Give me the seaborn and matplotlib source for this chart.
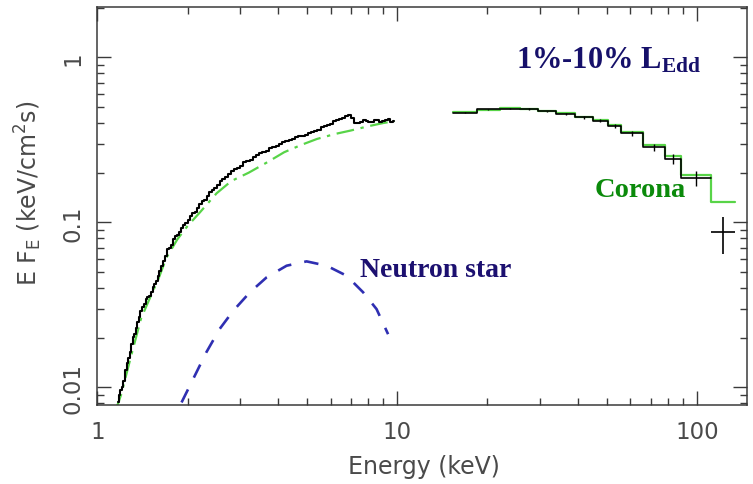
import matplotlib
matplotlib.use("Agg")
import matplotlib.pyplot as plt
import pandas as pd
import seaborn as sns
from matplotlib.ticker import NullFormatter

# Soft band spectrum (energy in keV, E F_E in keV/cm^2/s)
soft_energy = [1.17, 1.185, 1.20, 1.215, 1.23, 1.245, 1.26, 1.275, 1.29, 1.305, 1.32,
               1.335, 1.35, 1.365, 1.38, 1.40, 1.42, 1.44, 1.46, 1.48, 1.50, 1.52,
               1.54, 1.56, 1.58, 1.60, 1.62, 1.645, 1.67, 1.695, 1.72, 1.745, 1.77,
               1.80, 1.83, 1.86, 1.89, 1.92, 1.95, 1.985, 2.02, 2.055, 2.09, 2.13,
               2.17, 2.21, 2.25, 2.295, 2.34, 2.385, 2.43, 2.48, 2.53, 2.585, 2.64,
               2.70, 2.76, 2.825, 2.89, 2.96, 3.03, 3.105, 3.18, 3.26, 3.34, 3.425,
               3.51, 3.60, 3.69, 3.785, 3.88, 3.98, 4.08, 4.185, 4.29, 4.40, 4.51,
               4.625, 4.74, 4.86, 4.98, 5.105, 5.23, 5.36, 5.49, 5.625, 5.76, 5.90,
               6.04, 6.185, 6.33, 6.48, 6.63, 6.785, 6.94, 7.10, 7.26, 7.425, 7.59,
               7.76, 7.93, 8.105, 8.28, 8.46, 8.64, 8.825, 9.01, 9.20, 9.39, 9.585,
               9.78]
soft_flux = [0.0082, 0.0090, 0.0096, 0.0101, 0.0110, 0.0128, 0.0141, 0.0150, 0.0163,
             0.0184, 0.0201, 0.0212, 0.0229, 0.0250, 0.0268, 0.0290, 0.0306, 0.0318,
             0.0341, 0.0355, 0.0360, 0.0378, 0.0408, 0.0421, 0.0443, 0.0476, 0.0507,
             0.0540, 0.0585, 0.0628, 0.0686, 0.0702, 0.0730, 0.0790, 0.0825, 0.0840,
             0.0878, 0.0925, 0.0962, 0.0990, 0.1032, 0.1090, 0.1136, 0.1160, 0.1216,
             0.1290, 0.1340, 0.1375, 0.1436, 0.1520, 0.1580, 0.1625, 0.1690, 0.1775,
             0.1838, 0.1880, 0.1950, 0.2045, 0.2115, 0.2140, 0.2205, 0.2310, 0.2370,
             0.2400, 0.2475, 0.2575, 0.2625, 0.2650, 0.2720, 0.2815, 0.2880, 0.2910,
             0.2985, 0.3070, 0.3125, 0.3150, 0.3195, 0.3290, 0.3330, 0.3340, 0.3395,
             0.3490, 0.3540, 0.3570, 0.3640, 0.3760, 0.3840, 0.3880, 0.3970, 0.4100,
             0.4180, 0.4210, 0.4300, 0.4400, 0.4460, 0.4280, 0.4020, 0.3990, 0.4070,
             0.4150, 0.4120, 0.4060, 0.4080, 0.4180, 0.4160, 0.4050, 0.4090, 0.4190,
             0.4210, 0.4050, 0.4100]

# Corona (Comptonised) component over the soft band
corona_energy = [1.15, 1.20, 1.30, 1.40, 1.50, 1.60, 1.70, 1.85, 2.00, 2.20, 2.50,
                 2.80, 3.20, 3.70, 4.20, 4.80, 5.40, 6.20, 7.00, 8.00, 9.00, 9.80]
corona_flux = [0.0072, 0.0090, 0.0158, 0.0262, 0.0350, 0.0455, 0.0610, 0.0790, 0.0950,
               0.1150, 0.1500, 0.1780, 0.2000, 0.2320, 0.2660, 0.2950, 0.3200, 0.3430,
               0.3600, 0.3820, 0.4000, 0.4100]

# Neutron star surface component
ns_energy = [1.91, 2.14, 2.31, 2.56, 2.84, 3.23, 3.67, 4.28, 4.99, 5.82, 6.78, 7.70,
             8.54, 9.33]
ns_flux = [0.0081, 0.0123, 0.0163, 0.0226, 0.0291, 0.0377, 0.0464, 0.0546, 0.0580,
           0.0546, 0.0475, 0.0377, 0.0298, 0.0210]

# Hard band: bin edges, binned data, model
hard_edges = [15.4, 18.4, 22.0, 25.6, 29.5, 34.0, 39.1, 45.0, 50.5, 56.0, 66.1, 78.0,
              88.7, 111.7, 133.5]
hard_flux = [0.462, 0.483, 0.489, 0.486, 0.470, 0.455, 0.432, 0.413, 0.383, 0.346,
             0.285, 0.243, 0.185]
hard_err = [0.004, 0.004, 0.004, 0.005, 0.005, 0.006, 0.007, 0.008, 0.009, 0.011,
            0.014, 0.017, 0.020]
hard_model = [0.464, 0.481, 0.491, 0.487, 0.473, 0.458, 0.436, 0.417, 0.391, 0.351,
              0.294, 0.251, 0.194, 0.132]
last_energy = 122.0
last_flux = 0.087
last_flux_lo = 0.064
last_flux_hi = 0.107

sns.set_style("ticks")
plt.rcParams["font.family"] = ["DejaVu Sans"]
plt.rcParams["mathtext.default"] = "regular"

axis_gray = "#3a3a3a"
label_gray = "#4a4a4a"
data_green = "#58d448"
ns_blue = "#2f2fb2"

fig = plt.figure(figsize=(7.53, 4.85), dpi=100)
ax = fig.add_axes([0.1292, 0.1635, 0.8624, 0.8194])
ax.set_xscale("log")
ax.set_yscale("log")

# Corona model (dash-dot) in the soft band
sns.lineplot(x=corona_energy, y=corona_flux, ax=ax, color=data_green, lw=1.6,
             linestyle=(0, (8, 3, 1.5, 3)), estimator=None, sort=False)

# Neutron star component
sns.lineplot(x=ns_energy, y=ns_flux, ax=ax, color=ns_blue, lw=1.9,
             linestyle=(0, (5.5, 5)), estimator=None, sort=False)

# Soft band data
sns.lineplot(x=soft_energy, y=soft_flux, ax=ax, color="black", lw=1.5,
             drawstyle="steps-mid", estimator=None, sort=False)

# Hard band model steps
model_df = pd.DataFrame({"E": hard_edges, "F": hard_model + [hard_model[-1]]})
sns.lineplot(data=model_df, x="E", y="F", ax=ax, color=data_green, lw=1.6,
             drawstyle="steps-post", estimator=None, sort=False)

# Hard band data steps with errors
data_df = pd.DataFrame({"E": hard_edges[:len(hard_flux) + 1],
                        "F": hard_flux + [hard_flux[-1]]})
sns.lineplot(data=data_df, x="E", y="F", ax=ax, color="black", lw=1.2,
             drawstyle="steps-post", estimator=None, sort=False)
centers = [(a * b) ** 0.5 for a, b in zip(hard_edges[:-1], hard_edges[1:])]
ax.errorbar(centers[:len(hard_flux)], hard_flux, yerr=hard_err, fmt="none",
            ecolor="black", elinewidth=1.0)
ax.errorbar([last_energy], [last_flux],
            xerr=[[last_energy - hard_edges[-2]], [hard_edges[-1] - last_energy]],
            yerr=[[last_flux - last_flux_lo], [last_flux_hi - last_flux]],
            fmt="none", ecolor="black", elinewidth=1.2)

ax.set_xlim(1, 146.5)
ax.set_ylim(0.00785, 2.01)

ax.set_xticks([1, 10, 100], ["1", "10", "100"])
ax.set_yticks([0.01, 0.1, 1], ["0.01", "0.1", "1"])
ax.xaxis.set_minor_formatter(NullFormatter())
ax.yaxis.set_minor_formatter(NullFormatter())
ax.tick_params(which="both", direction="in", top=True, right=True,
               color=axis_gray, width=1.0)
ax.tick_params(which="major", length=10, labelsize=16.5, labelcolor=label_gray, pad=11)
ax.tick_params(which="minor", length=5)
plt.setp(ax.get_yticklabels(), rotation=90, va="center")
ax.tick_params(axis="y", which="major", pad=9)

for sp in ax.spines.values():
    sp.set_color(axis_gray)
    sp.set_linewidth(1.1)

ax.set_xlabel("Energy (keV)", fontsize=17, color=label_gray, va="center")
ax.xaxis.set_label_coords(0.503, -0.153)
ax.set_ylabel("E F$_E$ (keV/cm$^2$s)", fontsize=17, color=label_gray, va="center")
ax.yaxis.set_label_coords(-0.1067, 0.535)

serif = dict(family="Liberation Serif", weight="bold")
ax.text(24.9, 0.87, "1%-10% L$_\\mathregular{Edd}$", fontsize=22, color="#16106a",
        ha="left", va="baseline", **serif)
ax.text(7.51, 0.0471, "Neutron star", fontsize=20, color="#1c1070",
        ha="left", va="baseline", **serif)
ax.text(45.6, 0.1437, "Corona", fontsize=20.5, color="#0b8a0b",
        ha="left", va="baseline", **serif)

fig.savefig("out.png", dpi=100)
